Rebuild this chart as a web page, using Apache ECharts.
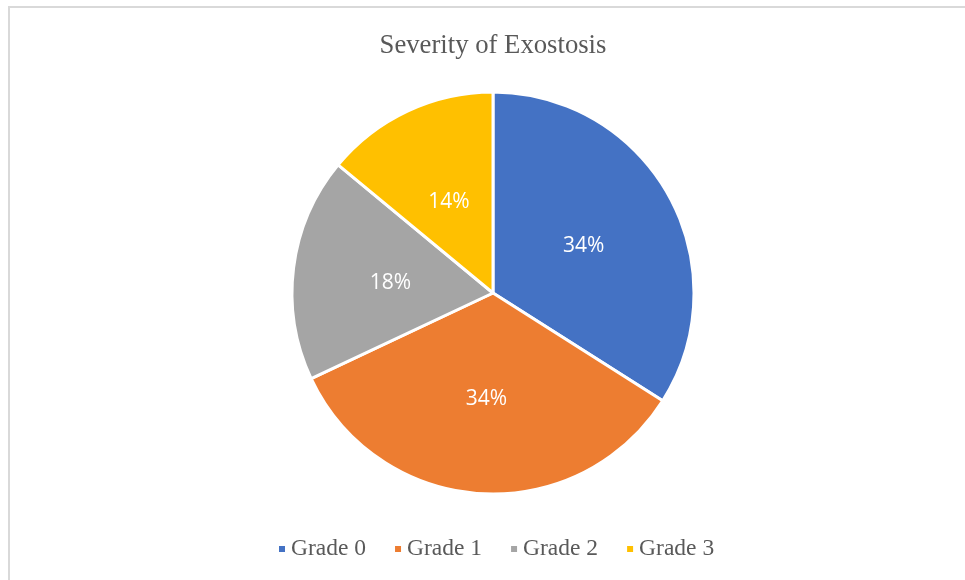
<!DOCTYPE html>
<html>
<head>
<meta charset="utf-8">
<script src="https://cdn.jsdelivr.net/npm/echarts@6/dist/echarts.min.js"></script>
<style>
  html, body { margin: 0; padding: 0; background: #fff; overflow: hidden; }
  #frame { position: absolute; left: 8px; top: 6px; width: 980px; height: 600px;
           border-left: 2px solid #d9d9d9; border-top: 2px solid #d9d9d9; }
  #chart { position: absolute; left: 0; top: 0; width: 965px; height: 580px; }
</style>
</head>
<body>
<div id="frame"></div>
<div id="chart"></div>
<script>
// grade counts (shown as percentages)
const grades = ["Grade 0", "Grade 1", "Grade 2", "Grade 3"];
const counts = [17, 17, 9, 7];
const colors = ["#4472c4", "#ed7d31", "#a5a5a5", "#ffc000"];

const chart = echarts.init(document.getElementById("chart"), null, { renderer: "canvas" });

const option = {
  animation: false,
  color: colors,
  title: {
    text: "Severity of Exostosis",
    left: 488,
    textAlign: "center",
    top: 27,
    textStyle: { fontFamily: "Liberation Serif", fontSize: 26.7, fontWeight: "normal", color: "#595959" }
  },
  legend: {
    top: 532,
    left: 272,
    icon: "rect",
    itemWidth: 8,
    itemHeight: 8,
    itemGap: 27,
    data: grades,
    textStyle: { fontFamily: "Liberation Serif", fontSize: 23.5, color: "#595959" }
  },
  series: [{
    type: "pie",
    center: [493, 293],
    radius: 201,
    startAngle: 90,
    clockwise: true,
    label: {
      position: "inside",
      formatter: "{d}%",
      color: "#fff",
      fontFamily: "Open Sans",
      fontSize: 21,
      offset: [0, 3]
    },
    labelLine: { show: false },
    itemStyle: { borderColor: "#fff", borderWidth: 3 },
    emphasis: { disabled: true },
    data: grades.map((g, i) => ({ name: g, value: counts[i] }))
  }]
};

chart.setOption(option);
</script>
</body>
</html>
